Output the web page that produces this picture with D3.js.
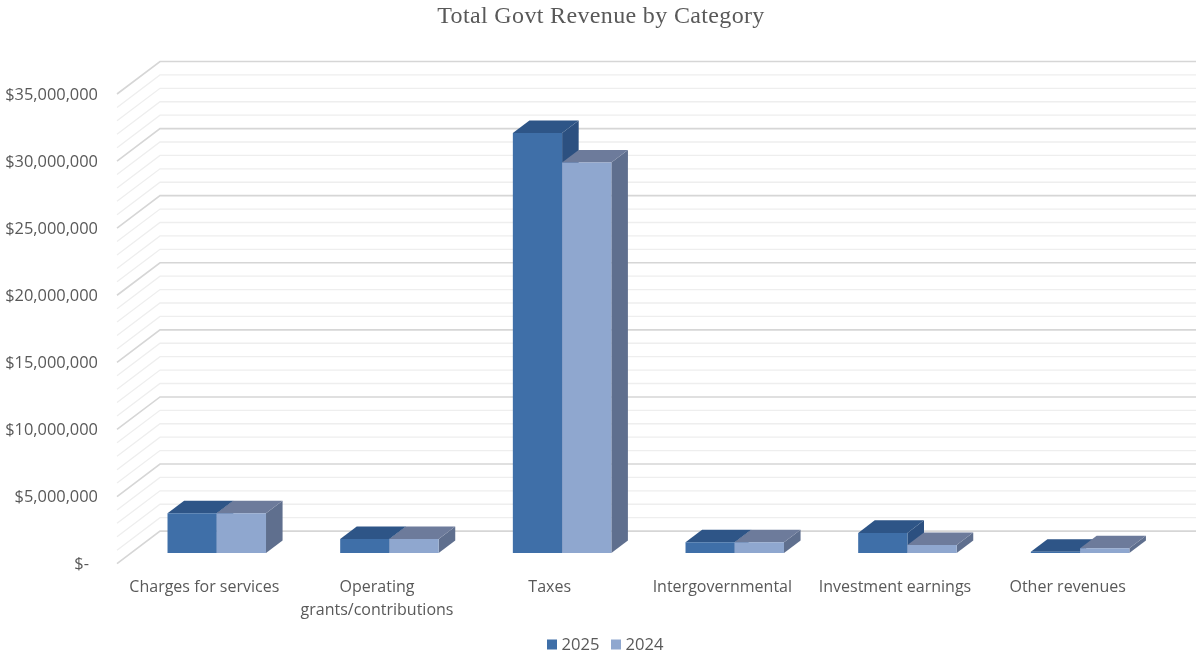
<!DOCTYPE html>
<html><head><meta charset="utf-8">
<script src="https://cdnjs.cloudflare.com/ajax/libs/d3/7.8.5/d3.min.js"></script>
<style>
html,body{margin:0;padding:0;background:#fff;overflow:hidden}
svg{display:block;filter:blur(0.35px)}
text{fill:#595959;font-family:"Open Sans",sans-serif}
</style></head><body>
<svg id="c" width="1197" height="654"></svg>
<script>
const categories=["Charges for services","Operating grants/contributions","Taxes","Intergovernmental","Investment earnings","Other revenues"];
const categoryLines=[["Charges for services"],["Operating","grants/contributions"],["Taxes"],["Intergovernmental"],["Investment earnings"],["Other revenues"]];
const seriesNames=["2025","2024"];
const values2025=[2960000,1040000,31300000,800000,1500000,100000];
const values2024=[2960000,1040000,29100000,800000,600000,350000];
const majorTicks=[0,5000000,10000000,15000000,20000000,25000000,30000000,35000000];
const minorTicks=d3.range(0,35000001,1000000);
const title="Total Govt Revenue by Category";

const frontColors=["#3f6fa8","#8fa7cf"];
const topColors=["#2e5587","#6d7b9b"];
const sideColors=["#2c5080","#5f6f8e"];

const svg=d3.select("#c");
const y=d3.scaleLinear().domain([0,35000000]).range([563.6,94]);
const x=d3.scaleBand().domain(categories).range([117,1153]);
const depthX=43, depthY=-32.5;
const barFront=0.326, barDepth=0.385;
const inner=d3.scaleBand().domain(seriesNames).range([36.5,135]);

svg.append("text").text(title).attr("x",601).attr("y",23).attr("text-anchor","middle")
  .style("font-family",'"Liberation Serif",serif').style("font-size","24px").style("letter-spacing","0.35px").style("fill","#595959");

const grid=svg.append("g").attr("fill","none");
minorTicks.forEach(v=>{
  const major=v%5000000===0;
  const path=d3.path();
  path.moveTo(117,y(v));
  path.lineTo(117+depthX,y(v)+depthY);
  path.lineTo(1153+depthX,y(v)+depthY);
  grid.append("path").attr("d",path.toString())
    .attr("stroke",major?"#d6d6d6":"#eeeeee").attr("stroke-width",major?1.6:1.3);
});

majorTicks.forEach(v=>{
  svg.append("text").attr("x",v===0?89:98).attr("y",y(v)+5.5).attr("text-anchor","end")
    .style("font-size","16.4px")
    .text(v===0?"$-":d3.format("$,")(v));
});

function poly(g,pts,fill){
  g.append("polygon").attr("points",pts.map(p=>p.join(",")).join(" ")).attr("fill",fill);
}
const dx=depthX*barDepth, dy=depthY*barDepth;
const offX=depthX*barFront, offY=depthY*barFront;
const bars=svg.append("g");
categories.forEach((c,i)=>{
  [values2025,values2024].forEach((vals,s)=>{
    const name=seriesNames[s];
    const g=bars.append("g");
    const x0=x(c)+offX+inner(name), x1=x0+inner.bandwidth();
    const base=y(0)+offY, top=y(vals[i])+offY;
    poly(g,[[x1,base],[x1+dx,base+dy],[x1+dx,top+dy],[x1,top]],sideColors[s]);
    poly(g,[[x0,top],[x0+dx,top+dy],[x1+dx,top+dy],[x1,top]],topColors[s]);
    poly(g,[[x0,base],[x1,base],[x1,top],[x0,top]],frontColors[s]);
  });
});

categoryLines.forEach((lines,i)=>{
  const cx=x(categories[i])+x.bandwidth()/2+1;
  lines.forEach((l,j)=>{
    svg.append("text").text(l).attr("x",cx).attr("y",592+j*23).attr("text-anchor","middle")
      .style("font-size","16px");
  });
});

const lx=[547,611];
seriesNames.forEach((n,s)=>{
  svg.append("rect").attr("x",lx[s]).attr("y",639.5).attr("width",10).attr("height",10).attr("fill",frontColors[s]);
  svg.append("text").text(n).attr("x",lx[s]+14.5).attr("y",650).style("font-size","16.6px");
});
</script>
</body></html>
